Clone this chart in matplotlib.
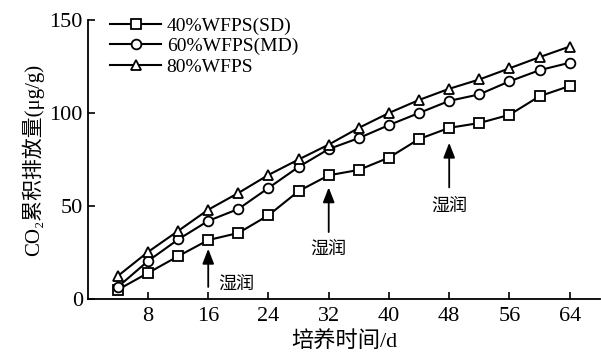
import matplotlib
matplotlib.use("Agg")
import matplotlib.pyplot as plt

plt.rcParams['font.family'] = ['Liberation Serif', 'Noto Sans CJK SC', 'DejaVu Sans']

# --- data ---
days = [4, 8, 12, 16, 20, 24, 28, 32, 36, 40, 44, 48, 52, 56, 60, 64]
sd_40 = [5, 14, 23, 31.7, 35.5, 45, 58, 66.5, 69.4, 76, 86, 92, 94.6, 99, 109, 114.5]
md_60 = [6.5, 20.4, 32, 42, 48.4, 59.7, 71, 80.6, 86.5, 93.5, 100, 106.5, 110, 117, 123, 127]
wfps_80 = [12.4, 25.3, 36.6, 48, 57, 66.7, 75, 83, 92, 100, 107, 113, 118, 124, 130, 135.7]
labels = ['40%WFPS(SD)', '60%WFPS(MD)', '80%WFPS']

# rewetting events: (day, arrow tail, arrow tip, text x, text y, alignment)
wet_days = [16, 32, 48]
wet_tail = [6.5, 36, 60]
wet_tip = [27, 60, 84]
wet_text_x = [17.3, 32, 48]
wet_text_y = [8, 27, 50]
wet_ha = ['left', 'center', 'center']

fig = plt.figure(figsize=(6.01, 3.56), dpi=100)
ax = fig.add_axes([0.146, 0.160, 0.852, 0.784])

style = dict(color='black', lw=1.5, markersize=7, markerfacecolor='white',
             markeredgecolor='black', markeredgewidth=1.3)
ax.plot(days, sd_40, marker='s', label=labels[0], **style)
ax.plot(days, md_60, marker='o', label=labels[1], **style)
ax.plot(days, wfps_80, marker='^', label=labels[2], **style)

for d, t0, t1, tx, ty, ha in zip(wet_days, wet_tail, wet_tip, wet_text_x, wet_text_y, wet_ha):
    ax.annotate('', xy=(d, t1), xytext=(d, t0),
                arrowprops=dict(arrowstyle='-|>,head_length=0.9,head_width=0.35',
                                color='black', lw=1.3, shrinkA=0, shrinkB=0))
    ax.text(tx, ty, '湿润', ha=ha, va='center', fontsize=13,
            family=['Noto Sans CJK SC', 'DejaVu Sans'])

ax.set_xlim(0, 68)
ax.set_ylim(0, 150)
ax.set_xticks([8, 16, 24, 32, 40, 48, 56, 64])
ax.set_yticks([0, 50, 100, 150])
ax.tick_params(direction='in', length=5, width=1.2, labelsize=16)
ax.tick_params(axis='x', pad=6)
for s in ['top', 'right']:
    ax.spines[s].set_visible(False)
for s in ['left', 'bottom']:
    ax.spines[s].set_linewidth(1.3)

ax.set_xlabel('培养时间/d', fontsize=16, labelpad=3)
ax.set_ylabel('CO₂累积排放量(μg/g)', fontsize=15, labelpad=4)

ax.legend(loc='upper left', bbox_to_anchor=(0.025, 1.045), frameon=False,
          fontsize=14, handlelength=2.6, handletextpad=0.3, labelspacing=0.15,
          borderpad=0)

fig.savefig('out.png', dpi=100)
